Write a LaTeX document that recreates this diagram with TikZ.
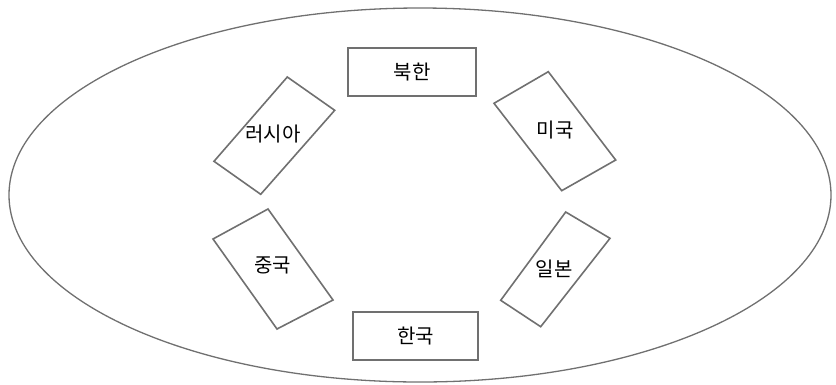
\documentclass[tikz,border=0pt]{standalone}
\usepackage{fontspec}
\newfontfamily\kr{Noto Sans CJK KR}
\definecolor{lgray}{RGB}{112,112,112}
\begin{document}
\begin{tikzpicture}[x=1pt,y=-1pt,
  boxline/.style={draw=lgray,line width=1.6pt},
  lbl/.style={font=\kr\fontsize{20}{22}\selectfont,text=black,inner sep=0pt},
  rectbox/.style={boxline,lbl,minimum height=48pt,inner sep=0pt}]
\useasboundingbox (0,0) rectangle (836,384);
\draw[lgray,line width=1.3pt] (420,195) ellipse [x radius=411, y radius=187];
\node[rectbox,minimum width=128pt] (nk) at (412,72) {북한};
\node[rectbox,minimum width=125pt] (sk) at (415.5,336) {한국};
\node[lbl] (ru) at (273,134) {러시아};
\node[lbl] (us) at (555,130) {미국};
\node[lbl] (cn) at (272.5,265) {중국};
\node[lbl] (jp) at (554,269) {일본};
\draw[boxline] (287.3,77) -- (334.7,110.3) -- (260.7,194.3) -- (214,161.3) -- cycle;
\draw[boxline] (494,103.3) -- (548.3,71.7) -- (615.7,160) -- (561.7,190.7) -- cycle;
\draw[boxline] (268,209) -- (333,300) -- (277,329) -- (213,239) -- cycle;
\draw[boxline] (565.7,212) -- (610,238.3) -- (540.7,326.7) -- (500.7,300.3) -- cycle;
\end{tikzpicture}
\end{document}
